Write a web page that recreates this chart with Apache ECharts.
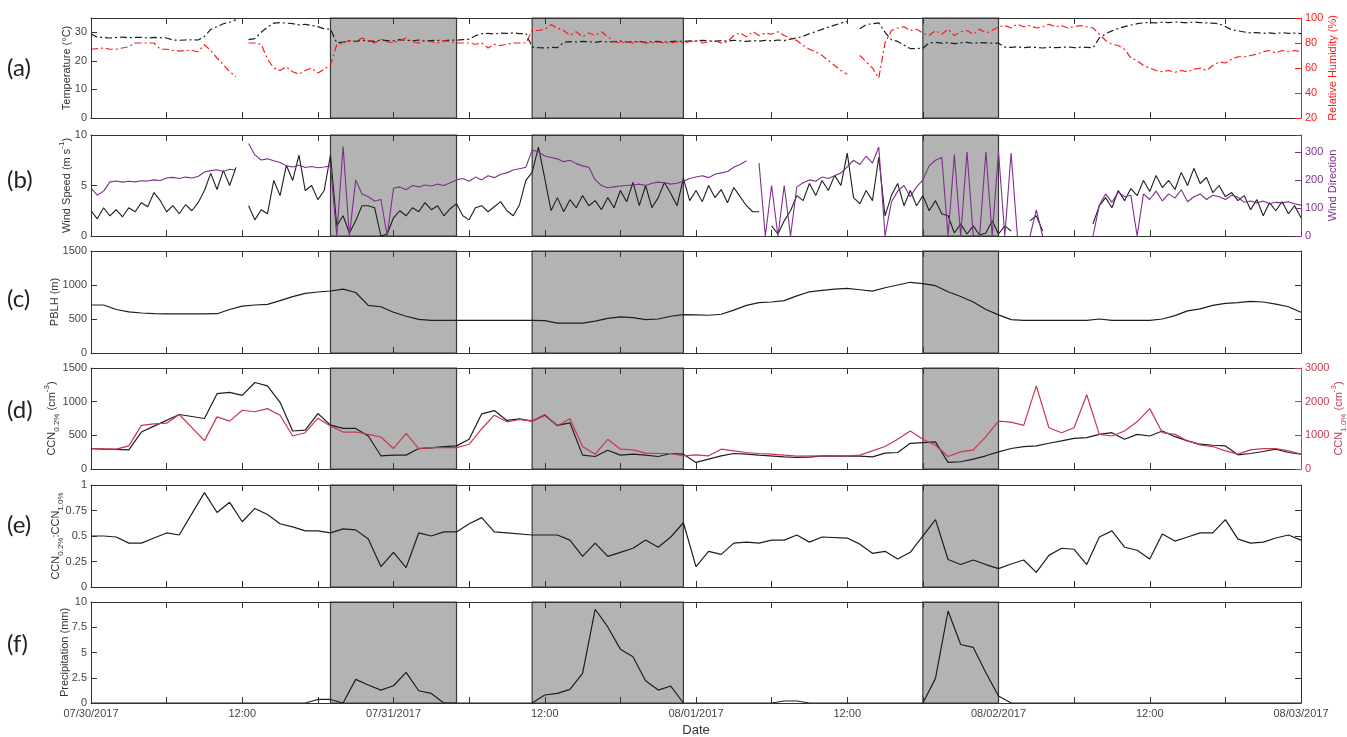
<!DOCTYPE html>
<html>
<head>
<meta charset="utf-8">
<title>Meteorology and CCN time series, 30 Jul - 3 Aug 2017</title>
<script src="https://cdn.jsdelivr.net/npm/echarts@6/dist/echarts.min.js"></script>
<style>
  html, body { margin: 0; padding: 0; background: #ffffff; }
  #chart { width: 1347px; height: 737px; }
</style>
</head>
<body>
<div id="chart"></div>
<script>
// ---------------------------------------------------------------------------
// Time axis: hours since 07/30/2017 00:00
// ---------------------------------------------------------------------------
const X_LABELS = ['07/30/2017', '12:00', '07/31/2017', '12:00', '08/01/2017',
                  '12:00', '08/02/2017', '12:00', '08/03/2017'];

// Shaded periods [start hour, end hour]
const SHADED = [[19, 29], [35, 47], [66, 72]];

// (a) Temperature (°C), every 30 min from hour 0 to 96
const temperature = [
  29.5, 28.2, 28.2, 28.0, 28.2, 28.3, 28.1, 28.2, 28.2, 28.0, 28.2, 28.1,
  28.0, 27.3, 27.2, 27.3, 27.4, 27.3, 28.5, 31.0, 32.0, 33.0, 33.5, 34.4,
  null, 27.4, 27.8, 30.0, 31.8, 33.2, 33.4, 33.2, 33.0, 32.6, 32.8, 32.4,
  32.0, 31.2, 31.1, 26.3, 26.6, 27.0, 26.8, 27.2, 27.0, 26.8, 27.3, 27.1,
  27.0, 27.4, 27.2, 27.0, 27.3, 26.9, 27.1, 27.2, 27.0, 27.3, 27.2, 27.4,
  27.6, 28.8, 29.5, 29.6, 29.4, 29.7, 29.6, 29.8, 29.5, 29.6, 24.8, 24.6,
  24.5, 24.7, 24.6, 26.5, 26.7, 26.6, 26.8, 26.7, 26.5, 26.8, 26.6, 26.7,
  26.9, 26.6, 26.7, 26.8, 26.5, 26.7, 26.8, 26.6, 26.7, 26.9, 26.8, 27.0,
  26.9, 27.2, 27.0, 26.8, 27.1, 26.9, 27.2, 27.0, 26.8, 27.1, 26.9, 27.2,
  27.0, 27.3, 27.1, 27.6, 28.0, 28.6, 29.5, 30.2, 31.0, 31.8, 32.5, 33.2,
  33.8, null, 31.2, 32.7, 33.0, 33.3, 30.0, 27.4, 26.8, 25.5, 24.3, 24.3,
  24.4, 26.3, 26.5, 26.2, 26.4, 26.0, 26.3, 26.5, 26.1, 26.4, 26.3, 26.2,
  26.2, 24.8, 24.7, 24.9, 24.6, 24.8, 24.7, 24.5, 24.8, 24.6, 24.7, 24.9,
  24.6, 24.8, 24.7, 24.6, 28.0, 29.5, 30.5, 31.3, 32.0, 32.5, 33.0, 33.3,
  33.4, 33.3, 33.5, 33.4, 33.6, 33.5, 33.3, 33.6, 33.4, 33.3, 33.2, 33.0,
  32.0, 30.9, 30.5, 30.1, 29.8, 29.9, 29.6, 29.8, 29.5, 29.9, 29.6, 29.7,
  29.5
];

// (a) Relative humidity (%), every 30 min
const humidity = [
  75, 75.5, 76, 75, 75, 76, 77, 80, 80, 80, 80, 75,
  75, 74, 73.5, 74, 74, 73, 78.6, 74, 68, 62.6, 57, 53,
  null, 80, 80, 79, 67, 60, 58, 61, 57, 55, 58, 60,
  56, 59, 62.6, 78.6, 80, 82, 81, 84, 82, 80, 83, 81,
  80, 82, 84, 81, 80, 82, 81, 80, 82, 81, 80, 80,
  80, 79, 80, 76, 79, 78, 79, 80, 80, 80, 90, 90,
  91, 94.6, 92, 90, 86, 89, 85, 88, 86, 89, 85, 81,
  80, 81, 80, 81, 80, 80, 81, 80, 80, 81, 80, 81,
  82, 80, 81, 82, 80, 81, 86, 88, 85, 89, 86, 88,
  87, 89, 86, 84, 82, 78, 75, 73, 70, 66, 62, 58,
  55, null, 70, 65, 60, 52, 80, 90, 92, 93, 90, 91,
  88, 86, 90, 87, 91, 86, 89, 90, 87, 91, 88, 90,
  93, 94, 92, 95, 93, 94, 92, 93, 95, 93, 94, 92,
  93, 94, 93, 92, 87, 82, 79, 78, 75, 68, 66, 62,
  60, 58, 57, 58, 56.5, 58, 57, 59, 60, 58, 62, 65,
  64, 67, 69, 69, 70, 71, 73, 74, 72, 74, 73, 74,
  73
];

// (b) Wind speed (m s-1), every 30 min
const windSpeed = [
  2.5, 1.7, 2.8, 2.0, 2.6, 1.9, 2.8, 2.4, 3.3, 2.9, 4.3, 3.5,
  2.4, 3.0, 2.2, 3.1, 2.5, 3.3, 4.5, 6.2, 4.6, 6.5, 5.0, 6.8,
  null, 3.0, 1.6, 2.6, 2.2, 5.5, 4.0, 7.0, 5.5, 8.0, 4.5, 5.0,
  3.6, 4.5, 8.0, 1.0, 2.0, 0.3, 1.5, 3.0, 3.0, 2.8, 0.0, 0.2,
  1.8, 2.5, 2.0, 2.8, 2.4, 3.3, 2.6, 3.0, 2.0, 2.7, 3.2, 2.0,
  1.6, 2.8, 3.0, 2.4, 2.9, 3.4, 2.5, 2.0, 3.1, 5.5, 6.3, 8.8,
  5.7, 2.5, 3.8, 2.4, 3.6, 2.8, 4.0, 3.0, 3.5, 2.6, 3.8, 2.8,
  4.5, 3.4, 5.3, 3.0, 5.0, 2.8, 3.8, 5.3, 4.2, 3.0, 5.7, 3.5,
  4.5, 3.4, 5.0, 3.8, 4.6, 3.3, 4.8, 3.9, 3.0, 2.4, 2.4, null,
  1.0, 0.2, 1.5, 2.5, 4.0, 3.5, 5.2, 4.0, 5.5, 4.5, 6.0, 5.0,
  8.2, 3.8, 3.2, 4.5, 3.5, 7.8, 2.0, 4.0, 5.2, 3.0, 4.5, 3.0,
  4.0, 2.5, 3.5, 2.2, 2.0, 0.3, 1.2, 0.2, 1.0, 0.1, 0.3, 1.5,
  0.2, 1.0, 0.5, null, null, 1.5, 2.0, 0.5, null, null, null, null,
  null, null, null, 1.2, 3.0, 3.8, 2.8, 4.5, 3.5, 4.7, 4.0, 5.5,
  4.4, 6.0, 4.8, 5.5, 4.6, 6.3, 5.0, 6.7, 5.2, 5.8, 4.3, 5.0,
  3.9, 4.3, 3.5, 4.0, 2.6, 3.6, 2.0, 3.3, 2.5, 3.4, 2.2, 3.0,
  1.8
];

// (b) Wind direction (degrees), every 30 min
const windDirection = [
  171, 146, 160, 193, 196, 192, 195, 193, 197, 196, 200, 198,
  207, 209, 205, 210, 207, 212, 228, 233, 236, 230, 238, 235,
  null, 330, 289, 271, 275, 268, 262, 250, 246, 252, 244, 248,
  243, 246, 250, 0, 320, 0, 200, 150, 140, 125, 130, 0,
  170, 175, 165, 180, 175, 182, 178, 185, 180, 190, 200, 205,
  195, 210, 200, 215, 208, 220, 225, 235, 240, 245, 306, 300,
  285, 280, 275, 265, 270, 258, 250, 245, 200, 180, 172, 175,
  178, 180, 182, 185, 180, 188, 192, 190, 185, 188, 195, 205,
  210, 215, 208, 220, 225, 230, 245, 255, 268, null, 260, 0,
  180, 0, 180, 0, 175, 190, 200, 195, 210, 205, 215, 225,
  246, 270, 255, 285, 260, 317, 0, 120, 160, 180, 140, 175,
  200, 250, 270, 280, 0, 290, 0, 300, 0, 0, 300, 0,
  300, 0, 296, 0, null, 0, 93, 0, null, null, null, null,
  null, null, null, 0, 110, 150, 120, 157, 140, 145, 0, 150,
  130, 160, 125, 150, 135, 165, 122, 140, 150, 130, 145, 140,
  130, 145, 138, 120, 125, 118, 125, 115, 120, 118, 122, 115,
  110
];

// (c) Planetary boundary layer height (m), hourly from hour 0 to 96
const pblh = [
  706, 706, 640, 605, 588, 578, 574, 574, 574, 574, 578, 640,
  690, 706, 715, 770, 830, 878, 897, 912, 940, 890, 700, 680,
  600, 540, 495, 480, 480, 480, 480, 480, 480, 480, 480, 480,
  475, 440, 440, 440, 470, 510, 530, 520, 490, 500, 540, 565,
  560, 555, 570, 630, 700, 740, 750, 770, 840, 900, 920, 940,
  950, 930, 910, 960, 1000, 1040, 1020, 990, 900, 830, 750, 640,
  560, 490, 480, 480, 480, 480, 480, 480, 500, 480, 480, 480,
  480, 500, 550, 620, 650, 700, 730, 740, 760, 750, 720, 680,
  600
];

// (d) CCN at 0.2% supersaturation (cm-3): [hour, value]
const ccn02 = [
  [0, 304], [1, 296], [2, 290], [3, 284], [4, 549], [5, 637], [7, 809], [9, 750],
  [10, 1118], [11, 1137], [12, 1093], [13, 1284], [14, 1235], [15, 990], [16, 564],
  [17, 578], [18, 824], [19, 652], [20, 603], [21, 603], [22, 490], [23, 196],
  [24, 206], [25, 206], [26, 304], [27, 315], [28, 333], [29, 343], [30, 441],
  [31, 819], [32, 868], [33, 721], [34, 745], [35, 711], [36, 799], [37, 647],
  [38, 686], [39, 206], [40, 186], [41, 279], [42, 206], [43, 221], [44, 206],
  [45, 186], [46, 230], [47, 220], [48, 98], [49, 147], [50, 196], [51, 230],
  [52, 220], [53, 206], [55, 181], [56, 171], [57, 175], [58, 196], [60, 190],
  [61, 190], [62, 181], [63, 235], [64, 245], [65, 382], [66, 392], [67, 402],
  [68, 98], [69, 108], [70, 147], [71, 196], [72, 255], [73, 304], [74, 333],
  [75, 343], [76, 382], [77, 417], [78, 456], [79, 466], [80, 515], [81, 539],
  [82, 441], [83, 515], [84, 490], [85, 564], [86, 480], [87, 417], [88, 368],
  [89, 353], [90, 343], [91, 211], [92, 230], [93, 260], [94, 294], [95, 245],
  [96, 221]
];

// (d) CCN at 1.0% supersaturation (cm-3): [hour, value]
const ccn10 = [
  [0, 608], [2, 590], [3, 686], [4, 1294], [5, 1343], [6, 1360], [7, 1618], [9, 843],
  [10, 1549], [11, 1422], [12, 1745], [13, 1700], [14, 1794], [15, 1598], [16, 980],
  [17, 1078], [18, 1510], [19, 1275], [20, 1098], [21, 1098], [22, 1029], [23, 950],
  [24, 608], [25, 1059], [26, 608], [27, 637], [28, 637], [29, 637], [30, 735],
  [31, 1196], [32, 1598], [33, 1402], [34, 1471], [35, 1422], [36, 1618], [37, 1275],
  [38, 1490], [39, 667], [40, 441], [41, 882], [42, 588], [43, 569], [44, 471],
  [45, 461], [46, 461], [47, 392], [48, 422], [49, 392], [50, 588], [51, 539],
  [52, 490], [53, 461], [54, 441], [56, 380], [58, 392], [60, 392], [61, 412],
  [62, 539], [63, 667], [64, 882], [65, 1127], [66, 882], [67, 706], [68, 373],
  [69, 510], [70, 569], [71, 961], [72, 1422], [73, 1392], [74, 1294], [75, 2471],
  [76, 1225], [77, 1078], [78, 1225], [79, 2206], [80, 1029], [81, 980], [82, 1127],
  [83, 1402], [84, 1794], [85, 1078], [86, 1029], [87, 834], [88, 716], [89, 667],
  [90, 539], [91, 441], [92, 569], [93, 608], [94, 608], [95, 539], [96, 441]
];

// (e) CCN0.2% : CCN1.0% ratio: [hour, value]
const ccnRatio = [
  [0, 0.50], [1, 0.50], [2, 0.49], [3, 0.43], [4, 0.43], [5, 0.48], [6, 0.53], [7, 0.51],
  [9, 0.925], [10, 0.73], [11, 0.83], [12, 0.64], [13, 0.77], [14, 0.71], [15, 0.62],
  [16, 0.59], [17, 0.55], [18, 0.55], [19, 0.53], [20, 0.57], [21, 0.56], [22, 0.47],
  [23, 0.20], [24, 0.34], [25, 0.19], [26, 0.53], [27, 0.50], [28, 0.54], [29, 0.54],
  [30, 0.62], [31, 0.68], [32, 0.54], [33, 0.53], [35, 0.51], [36, 0.51], [37, 0.51],
  [38, 0.46], [39, 0.30], [40, 0.43], [41, 0.30], [42, 0.34], [43, 0.38], [44, 0.46],
  [45, 0.39], [46, 0.49], [47, 0.63], [48, 0.20], [49, 0.35], [50, 0.32], [51, 0.43],
  [52, 0.44], [53, 0.43], [54, 0.46], [55, 0.46], [56, 0.51], [57, 0.44], [58, 0.49],
  [60, 0.48], [61, 0.42], [62, 0.33], [63, 0.35], [64, 0.275], [65, 0.34], [67, 0.66],
  [68, 0.27], [69, 0.22], [70, 0.265], [71, 0.22], [72, 0.18], [73, 0.225], [74, 0.265],
  [75, 0.144], [76, 0.31], [77, 0.38], [78, 0.37], [79, 0.22], [80, 0.49], [81, 0.55],
  [82, 0.39], [83, 0.36], [84, 0.275], [85, 0.52], [86, 0.45], [87, 0.49], [88, 0.53],
  [89, 0.53], [90, 0.66], [91, 0.47], [92, 0.43], [93, 0.44], [94, 0.48], [95, 0.51],
  [96, 0.46]
];

// (f) Precipitation (mm), hourly from hour 0 to 96
const precipitation = [
  0, 0, 0, 0, 0, 0, 0, 0, 0, 0, 0, 0,
  0, 0, 0, 0, 0, 0, 0.35, 0.35, 0, 2.34, 1.78, 1.28,
  1.71, 3.03, 1.21, 0.95, 0, 0, 0, 0, 0, 0, 0, 0,
  0.79, 0.95, 1.35, 2.93, 9.28, 7.53, 5.33, 4.57, 2.2, 1.28, 1.68, 0,
  0, 0, 0, 0, 0, 0, 0, 0.2, 0.2, 0, 0, 0,
  0, 0, 0, 0, 0, 0, 0, 2.44, 9.11, 5.79, 5.5, 3.0,
  0.7, 0, 0, 0, 0, 0, 0, 0, 0, 0, 0, 0,
  0, 0, 0, 0, 0, 0, 0, 0, 0, 0, 0, 0,
  0
];

// ---------------------------------------------------------------------------
// Layout and styling
// ---------------------------------------------------------------------------
const FONT = '"Liberation Sans", Arial, Helvetica, sans-serif';
const AXIS_COLOR = '#333333';
const LABEL_COLOR = '#454545';
const RH_COLOR = '#ff1a1a';
const WD_COLOR = '#7e2f8e';
const CCN10_COLOR = '#c8374f';
const LINE_BLACK = '#1e1e1e';

const PANELS = [
  { top: 18,  height: 100 },
  { top: 135, height: 101 },
  { top: 251, height: 102 },
  { top: 368, height: 101 },
  { top: 485, height: 102 },
  { top: 602, height: 101 }
];

const halfHourly = arr => arr.map((v, i) => [i / 2, v]);
const hourly = arr => arr.map((v, i) => [i, v]);

function richFor(color) {
  return {
    n: { fontSize: 11, color: color, fontFamily: FONT, lineHeight: 18, verticalAlign: 'middle' },
    s: { fontSize: 8, color: color, fontFamily: FONT, lineHeight: 18, verticalAlign: 'bottom' },
    p: { fontSize: 8, color: color, fontFamily: FONT, lineHeight: 18, verticalAlign: 'top' }
  };
}

const grid = PANELS.map(p => ({
  left: 91, right: 46, top: p.top, height: p.height,
  containLabel: false, outerBoundsMode: 'none'
}));

const xAxis = [];
PANELS.forEach((p, i) => {
  const common = {
    gridIndex: i, type: 'value', min: 0, max: 96, interval: 6, z: 6,
    axisLine: { show: true, onZero: false, lineStyle: { color: AXIS_COLOR, width: 1 } },
    axisTick: { show: true, inside: true, length: 6, lineStyle: { color: AXIS_COLOR, width: 1 } },
    splitLine: { show: false },
    nameMoveOverlap: false
  };
  const last = i === PANELS.length - 1;
  xAxis.push(Object.assign({}, common, {
    position: 'bottom',
    axisLabel: last ? {
      show: true, margin: 5, color: LABEL_COLOR, fontSize: 11, fontFamily: FONT,
      showMinLabel: true, showMaxLabel: true, hideOverlap: false,
      formatter: v => (v % 12 === 0 ? X_LABELS[v / 12] : '')
    } : { show: false },
    name: last ? 'Date' : '',
    nameLocation: 'middle', nameGap: 21,
    nameTextStyle: { fontSize: 13, color: '#333', fontFamily: FONT }
  }));
  xAxis.push(Object.assign({}, common, { position: 'top', axisLabel: { show: false } }));
});

function leftAxis(i, min, max, interval, name, nameGap, fmt) {
  return {
    gridIndex: i, type: 'value', position: 'left', min, max, interval, z: 6,
    axisLine: { show: true, onZero: false, lineStyle: { color: AXIS_COLOR, width: 1 } },
    axisTick: { show: true, inside: true, length: 6, lineStyle: { color: AXIS_COLOR } },
    splitLine: { show: false },
    axisLabel: { show: true, margin: 4, color: LABEL_COLOR, fontSize: 11, fontFamily: FONT,
                 showMaxLabel: true, formatter: fmt },
    name, nameLocation: 'middle', nameRotate: 90, nameGap, nameMoveOverlap: false,
    nameTextStyle: { fontSize: 11, color: '#333', fontFamily: FONT, rich: richFor('#333') }
  };
}

function rightAxis(i, min, max, interval, color, name, nameGap, fmt, showLabels) {
  return {
    gridIndex: i, type: 'value', position: 'right', min, max, interval, z: 7,
    axisLine: { show: true, onZero: false, lineStyle: { color: color, width: 1 } },
    axisTick: { show: true, inside: true, length: 6, lineStyle: { color: color } },
    splitLine: { show: false },
    axisLabel: { show: showLabels, margin: 4, color: color, fontSize: 11, fontFamily: FONT,
                 formatter: fmt },
    name: name || '', nameLocation: 'middle', nameRotate: 90, nameGap, nameMoveOverlap: false,
    nameTextStyle: { fontSize: 11, color: color, fontFamily: FONT, rich: richFor(color) }
  };
}

const plain = v => String(v);
const yAxis = [
  leftAxis(0, 0, 35, 10, '{n|Temperature (°C)}', 15, v => (v > 30 ? '' : String(v))),
  rightAxis(0, 20, 100, 20, RH_COLOR, '{n|Relative Humidity (%)}', 23, plain, true),
  leftAxis(1, 0, 10, 5, '{n|Wind Speed (m s}{p|-1}{n|)}', 15, plain),
  rightAxis(1, 0, 360, 100, WD_COLOR, '{n|Wind Direction}', 23, v => (v > 300 ? '' : String(v)), true),
  leftAxis(2, 0, 1500, 500, '{n|PBLH (m)}', 27, plain),
  rightAxis(2, 0, 1500, 500, AXIS_COLOR, '', 0, plain, false),
  leftAxis(3, 0, 1500, 500, '{n|CCN}{s|0.2%}{n| (cm}{p|-3}{n|)}', 30, plain),
  rightAxis(3, 0, 3000, 1000, CCN10_COLOR, '{n|CCN}{s|1.0%}{n| (cm}{p|-3}{n|)}', 29, plain, true),
  leftAxis(4, 0, 1, 0.25, '{n|CCN}{s|0.2%}{n|:CCN}{s|1.0%}', 26, plain),
  rightAxis(4, 0, 1, 0.25, AXIS_COLOR, '', 0, plain, false),
  leftAxis(5, 0, 10, 2.5, '{n|Precipitation (mm)}', 17, plain),
  rightAxis(5, 0, 10, 2.5, AXIS_COLOR, '', 0, plain, false)
];

function lineSeries(name, data, xi, yi, color, width, dash) {
  return {
    name, type: 'line', data, xAxisIndex: xi, yAxisIndex: yi, z: 3,
    showSymbol: false, symbol: 'none', connectNulls: false, animation: false,
    lineStyle: { color, width, type: dash || 'solid' }
  };
}

const shadeSeries = PANELS.map((p, i) => ({
  type: 'line', data: [], xAxisIndex: 2 * i, yAxisIndex: 2 * i, z: 1,
  silent: true, animation: false,
  markArea: {
    silent: true,
    itemStyle: { color: '#b3b3b3', borderColor: '#3a3a3a', borderWidth: 1.2 },
    data: SHADED.map(([a, b]) => [{ xAxis: a }, { xAxis: b }])
  }
}));

const DASH_DOT = [7, 3, 2, 3];

const series = shadeSeries.concat([
  lineSeries('Temperature', halfHourly(temperature), 0, 0, LINE_BLACK, 1.2, DASH_DOT),
  lineSeries('Relative Humidity', halfHourly(humidity), 0, 1, RH_COLOR, 1.2, DASH_DOT),
  lineSeries('Wind Speed', halfHourly(windSpeed), 2, 2, LINE_BLACK, 1.1),
  lineSeries('Wind Direction', halfHourly(windDirection), 2, 3, WD_COLOR, 1.1),
  lineSeries('PBLH', hourly(pblh), 4, 4, LINE_BLACK, 1.2),
  lineSeries('CCN0.2%', ccn02, 6, 6, LINE_BLACK, 1.2),
  lineSeries('CCN1.0%', ccn10, 6, 7, CCN10_COLOR, 1.2),
  lineSeries('CCN0.2%:CCN1.0%', ccnRatio, 8, 8, LINE_BLACK, 1.2),
  lineSeries('Precipitation', hourly(precipitation), 10, 10, LINE_BLACK, 1.2)
]);

const PANEL_TAGS = [
  { text: '(a)', y: 71 }, { text: '(b)', y: 183 }, { text: '(c)', y: 302 },
  { text: '(d)', y: 413 }, { text: '(e)', y: 528 }, { text: '(f)', y: 647 }
];

const graphic = PANEL_TAGS.map(t => ({
  type: 'text', left: 7, top: t.y - 15,
  style: { text: t.text, font: '24px Lato, "Open Sans", sans-serif', fill: '#222' }
}));

const chart = echarts.init(document.getElementById('chart'), null, { renderer: 'canvas' });
chart.setOption({
  animation: false,
  backgroundColor: '#ffffff',
  grid, xAxis, yAxis, series, graphic
});
</script>
</body>
</html>
